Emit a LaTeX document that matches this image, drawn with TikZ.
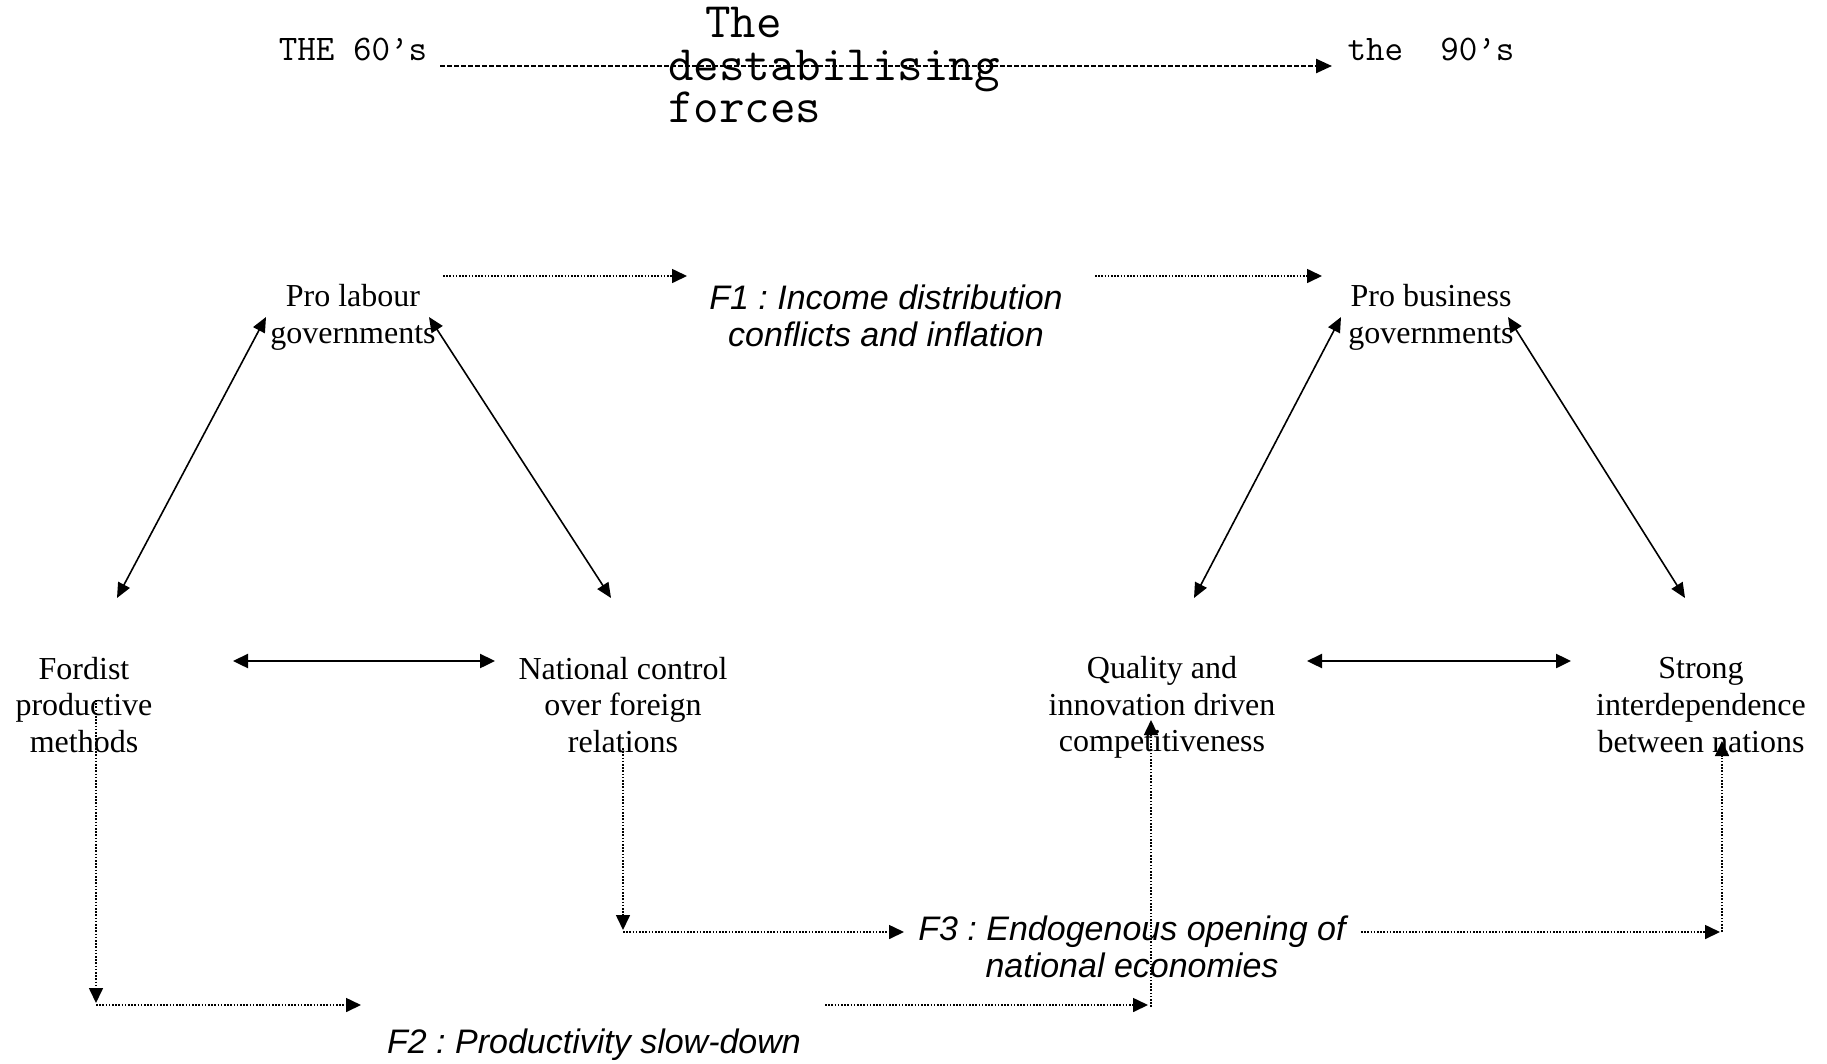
\documentclass[tikz,border=0pt]{standalone}
\usepackage{fontspec}
\setmainfont{Liberation Serif}
\newfontfamily\labelfont{Liberation Sans}
\usetikzlibrary{arrows.meta}
\frenchspacing
\begin{document}
\begin{tikzpicture}[x=1pt,y=-1pt,
  every node/.style={inner sep=0pt, outer sep=0pt},
  state/.style={align=center, font=\fontsize{32}{36.7}\selectfont},
  force/.style={align=center, font=\labelfont\itshape\fontsize{34}{37.5}\selectfont},
  era/.style={font=\ttfamily\fontsize{36}{40}\selectfont},
  headtip/.style={-{Triangle[length=15pt,width=14pt]}},
  link/.style={{Triangle[length=15pt,width=13pt]}-{Triangle[length=15pt,width=13pt]}, line width=1.6pt},
  barlink/.style={{Triangle[length=15pt,width=14pt]}-{Triangle[length=15pt,width=14pt]}, line width=2.4pt},
  flow/.style={headtip, line width=1.6pt, dash pattern=on 1.6pt off 1.6pt},
  timeline/.style={-{Triangle[length=16pt,width=14pt]}, line width=2.4pt, dash pattern=on 5pt off 2pt},
]
\useasboundingbox (0,0) rectangle (1827,1063);

% period labels and title
\node[era] (sixties) at (353,49) {THE 60’s};
\node[era] (nineties) at (1431,49) {the~~90’s};
\node[align=left, anchor=west, font=\ttfamily\fontsize{49.6}{42.5}\selectfont] (title) at (668,65)
  {\hspace{0.75em}The\\destabilising\\forces};
\coordinate (tl0) at (440,66);
\coordinate (tl1) at (1332,66);
\draw[timeline] (tl0) -- (tl1);

% the two triangles of regimes
\node[state] (prolab) at (353,317) {Pro labour\\governments};
\node[state] (fordist) at (84,705) {Fordist\\productive\\methods};
\node[state] (natctl) at (623,705) {National control\\over foreign\\relations};
\node[state] (probus) at (1431,317) {Pro business\\governments};
\node[state] (quality) at (1162,707.5) {Quality and\\innovation driven\\competitiveness};
\node[state] (strong) at (1701,705) {Strong\\interdependence\\between nations};

% the forces
\node[force] (fone) at (886,316) {F1 : Income distribution\\conflicts and inflation};
\node[force] (fthree) at (1132,947) {F3 : Endogenous opening of\\national economies};
\node[force, anchor=base] (ftwo) at (594,1053) {F2 : Productivity slow-down};

% left triangle
\coordinate (a1) at (266,317); \coordinate (a2) at (117,598);
\coordinate (b1) at (429,317); \coordinate (b2) at (611,598);
\coordinate (c1) at (233,661); \coordinate (c2) at (495,661);
\draw[link] (a1) -- (a2);
\draw[link] (b1) -- (b2);
\draw[barlink] (c1) -- (c2);

% right triangle
\coordinate (d1) at (1341,317); \coordinate (d2) at (1194,598);
\coordinate (e1) at (1508,317); \coordinate (e2) at (1685,598);
\coordinate (g1) at (1307,661); \coordinate (g2) at (1571,661);
\draw[link] (d1) -- (d2);
\draw[link] (e1) -- (e2);
\draw[barlink] (g1) -- (g2);

% F1 flow
\coordinate (f1a) at (443,276); \coordinate (f1b) at (687,276);
\coordinate (f1c) at (1095,276); \coordinate (f1d) at (1322,276);
\draw[flow] (f1a) -- (f1b);
\draw[flow] (f1c) -- (f1d);

% F2 flow
\coordinate (f2a) at (96,700); \coordinate (f2b) at (96,1003);
\coordinate (f2c) at (361,1005);
\coordinate (f2d) at (825,1005); \coordinate (f2e) at (1148,1005);
\coordinate (f2f) at (1151,1007); \coordinate (f2g) at (1151,720);
\draw[flow] (f2a) -- (f2b);
\draw[flow] (f2b |- f2c) -- (f2c);
\draw[flow] (f2d) -- (f2e);
\draw[flow] (f2f) -- (f2g);

% F3 flow
\coordinate (f3a) at (623,748); \coordinate (f3b) at (623,930);
\coordinate (f3c) at (904,932);
\coordinate (f3d) at (1361,932); \coordinate (f3e) at (1720,932);
\coordinate (f3f) at (1722,932); \coordinate (f3g) at (1722,741);
\draw[flow] (f3a) -- (f3b);
\draw[flow] (f3b |- f3c) -- (f3c);
\draw[flow] (f3d) -- (f3e);
\draw[flow] (f3f) -- (f3g);
\end{tikzpicture}
\end{document}
